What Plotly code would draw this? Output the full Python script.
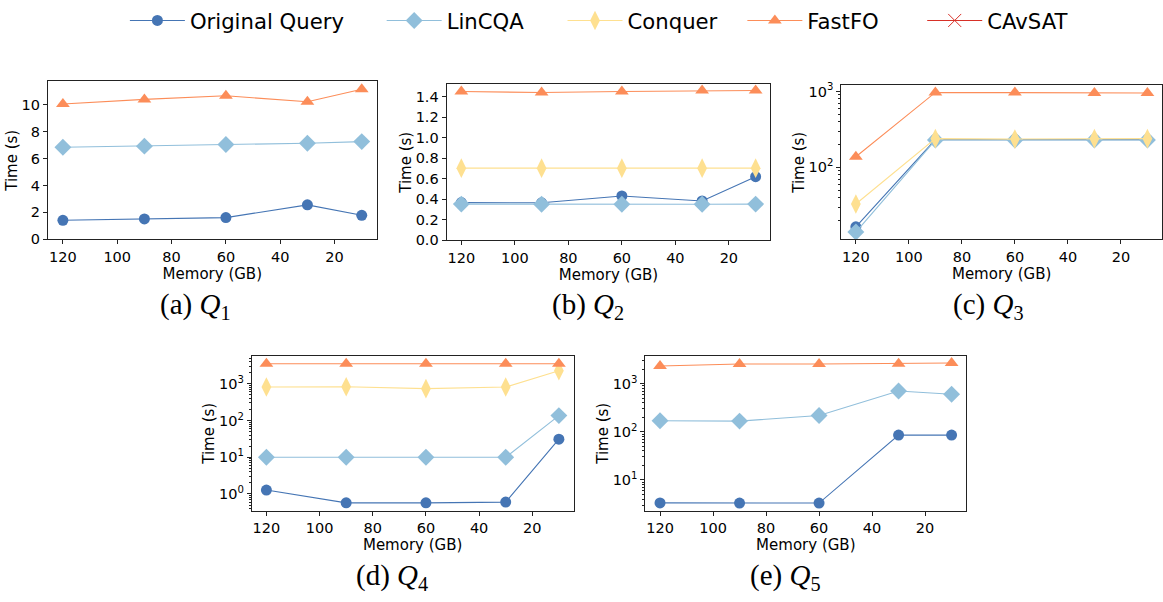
import plotly.graph_objects as go

W, H = 1163, 602

# ---------------- data ----------------
memory = [120, 90, 60, 30, 10]
series_names = ["Original Query", "LinCQA", "Conquer", "FastFO", "CAvSAT"]

q1_orig = [1.41, 1.51, 1.61, 2.56, 1.78]
q1_lincqa = [6.85, 6.93, 7.05, 7.15, 7.27]
q1_fastfo = [10.07, 10.41, 10.68, 10.24, 11.17]

q2_orig = [0.367, 0.365, 0.431, 0.383, 0.62]
q2_lincqa = [0.352, 0.350, 0.350, 0.350, 0.352]
q2_conquer = [0.703, 0.703, 0.703, 0.703, 0.703]
q2_fastfo = [1.45, 1.44, 1.45, 1.46, 1.46]

q3_orig = [16.5, 232, 232, 232, 232]
q3_lincqa = [14.1, 229, 229, 229, 229]
q3_conquer = [33.0, 239, 236, 239, 239]
q3_fastfo = [138, 970, 965, 955, 955]

q4_orig = [1.28, 0.574, 0.574, 0.60, 31.0]
q4_lincqa = [10.0, 10.0, 10.0, 10.0, 136]
q4_conquer = [815, 830, 735, 815, 2275]
q4_fastfo = [3500, 3500, 3500, 3500, 3500]

q5_orig = [3.33, 3.30, 3.30, 85.5, 85.5]
q5_lincqa = [170, 167, 219, 707, 604]
q5_fastfo = [2340, 2570, 2570, 2610, 2700]

captions = ["(a) <i>Q</i><sub>1</sub>", "(b) <i>Q</i><sub>2</sub>",
            "(c) <i>Q</i><sub>3</sub>", "(d) <i>Q</i><sub>4</sub>",
            "(e) <i>Q</i><sub>5</sub>"]

# ---------------- style ----------------
colors = {"Original Query": "#4575b4", "LinCQA": "#91bfdb", "Conquer": "#fee090",
          "FastFO": "#fc8d59", "CAvSAT": "#d73027"}
symbols = {"Original Query": "circle", "LinCQA": "diamond", "Conquer": "diamond-tall",
           "FastFO": "triangle-up", "CAvSAT": "x-thin"}
msize = {"Original Query": 11, "LinCQA": 13, "Conquer": 14, "FastFO": 12, "CAvSAT": 13}
legend_ids = {"Original Query": "legend", "LinCQA": "legend2", "Conquer": "legend3",
              "FastFO": "legend4", "CAvSAT": "legend5"}

FONT = "DejaVu Sans"

def px(x):
    return x / W

def py(y):
    return 1 - y / H

# axes boxes in pixels: (left, right, top, bottom)
boxes = [(48, 377, 79, 240), (447, 771, 82, 241), (842, 1163, 83, 240),
         (252, 574, 359, 517), (646, 967, 359, 517)]
caption_pos = [(196, 308), (589, 308), (989, 308), (392, 585), (786, 585)]

panels = [
    {"Original Query": q1_orig, "LinCQA": q1_lincqa, "FastFO": q1_fastfo},
    {"Original Query": q2_orig, "LinCQA": q2_lincqa, "Conquer": q2_conquer, "FastFO": q2_fastfo},
    {"Original Query": q3_orig, "LinCQA": q3_lincqa, "Conquer": q3_conquer, "FastFO": q3_fastfo},
    {"Original Query": q4_orig, "LinCQA": q4_lincqa, "Conquer": q4_conquer, "FastFO": q4_fastfo},
    {"Original Query": q5_orig, "LinCQA": q5_lincqa, "FastFO": q5_fastfo},
]
yranges = [([0, 11.75], "linear"), ([0, 1.52], "linear"), ([1.055, 3.08], "log"),
           ([-0.455, 3.76], "log"), ([0.36, 3.58], "log")]
log_ticks = [[], [], [100, 1000], [1, 10, 100, 1000], [10, 100, 1000]]
log_text = {1: "10<sup>0</sup>", 10: "10<sup>1</sup>", 100: "10<sup>2</sup>", 1000: "10<sup>3</sup>"}

fig = go.Figure()
shown = set()
for i, panel in enumerate(panels):
    xa = "x" if i == 0 else f"x{i+1}"
    ya = "y" if i == 0 else f"y{i+1}"
    for name in series_names:
        if name not in panel:
            continue
        show = name not in shown
        shown.add(name)
        fig.add_trace(go.Scatter(
            x=memory, y=panel[name], mode="lines+markers", name=name,
            xaxis=xa, yaxis=ya, showlegend=show, legend=legend_ids[name],
            line=dict(color=colors[name], width=1.1),
            marker=dict(symbol=symbols[name], size=msize[name], color=colors[name]),
        ))

# legend-only entry for CAvSAT (no measurements shown in these panels)
fig.add_trace(go.Scatter(
    x=[None], y=[None], mode="lines+markers", name="CAvSAT", xaxis="x", yaxis="y",
    showlegend=True, legend="legend5",
    line=dict(color=colors["CAvSAT"], width=1.1),
    marker=dict(symbol=symbols["CAvSAT"], size=msize["CAvSAT"], color=colors["CAvSAT"],
                line=dict(color=colors["CAvSAT"], width=1)),
))

layout = dict(
    width=W, height=H, margin=dict(l=0, r=0, t=0, b=0),
    paper_bgcolor="white", plot_bgcolor="white",
    font=dict(family=FONT, size=14, color="black"),
)

minor_vals = [m * 10 ** e for e in range(-1, 4) for m in range(2, 10)]

for i, (l, r, t, b) in enumerate(boxes):
    xk = "xaxis" if i == 0 else f"xaxis{i+1}"
    yk = "yaxis" if i == 0 else f"yaxis{i+1}"
    xa = "x" if i == 0 else f"x{i+1}"
    ya = "y" if i == 0 else f"y{i+1}"
    layout[xk] = dict(
        domain=[px(l), px(r)], anchor=ya, range=[125.5, 4.5], tickmode="linear",
        tick0=20, dtick=20, ticks="outside", ticklen=4, tickcolor="#222",
        showline=True, linecolor="#222", linewidth=1, mirror=True, showgrid=False,
        zeroline=False, tickfont=dict(size=14.5),
        title=dict(text="Memory (GB)", font=dict(size=15), standoff=2),
    )
    yr, yt = yranges[i]
    ycfg = dict(
        domain=[py(b), py(t)], anchor=xa, range=yr, type=yt, ticks="outside", ticklen=4,
        tickcolor="#222", showline=True, linecolor="#222", linewidth=1, mirror=True,
        showgrid=False, zeroline=False, tickfont=dict(size=14.5),
        title=dict(text="Time (s)", font=dict(size=15), standoff=0),
    )
    if yt == "log":
        ycfg.update(tickmode="array", tickvals=log_ticks[i],
                    ticktext=[log_text[v] for v in log_ticks[i]],
                    minor=dict(ticks="outside", ticklen=2, tickcolor="#222",
                               tickmode="array", tickvals=minor_vals, showgrid=False))
    elif i == 0:
        ycfg.update(tickmode="linear", tick0=0, dtick=2)
    else:
        ycfg.update(tickmode="linear", tick0=0, dtick=0.2, tickformat=".1f")
    layout[yk] = ycfg

legend_x = {"legend": 125, "legend2": 382, "legend3": 563, "legend4": 743, "legend5": 923}
for name in series_names:
    lid = legend_ids[name]
    layout[lid] = dict(
        x=px(legend_x[lid]), y=py(17), xanchor="left", yanchor="middle",
        orientation="h", font=dict(family=FONT, size=21.2, color="black"),
        itemwidth=55, bgcolor="rgba(0,0,0,0)", borderwidth=0, tracegroupgap=0,
    )

fig.update_layout(**layout)

for cap, (cx, cy) in zip(captions, caption_pos):
    fig.add_annotation(text=cap, x=px(cx), y=py(cy), xref="paper", yref="paper",
                       showarrow=False, xanchor="center", yanchor="middle",
                       font=dict(family="Liberation Serif", size=29, color="black"))

fig.write_html("out.html", config={"displayModeBar": False},
               post_script="document.body.style.margin='0px';document.body.style.overflow='hidden';")
